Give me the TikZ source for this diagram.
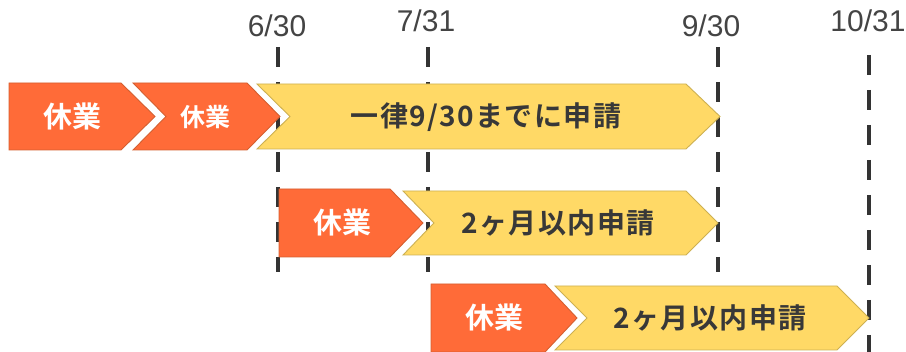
\documentclass[tikz,border=0pt]{standalone}
\usepackage{fontspec}
\setmainfont{Liberation Sans}
\newfontfamily\cjk{Noto Sans CJK JP}[BoldFont={* Bold}]
\newfontfamily\cjkw{Noto Sans CJK JP}[BoldFont={* Bold},LetterSpace=5]
\definecolor{orfill}{HTML}{FF6B38}
\definecolor{ordraw}{HTML}{D45F30}
\definecolor{yefill}{HTML}{FFD966}
\definecolor{yedraw}{HTML}{CDB052}
\definecolor{dline}{HTML}{333333}
\definecolor{lbl}{HTML}{444444}
\definecolor{dtext}{HTML}{383838}
\tikzset{
  orbox/.style={fill=orfill,draw=ordraw,line width=0.9pt,line join=miter},
  yebox/.style={fill=yefill,draw=yedraw,line width=0.9pt,line join=miter},
  dateline/.style={draw=dline,line width=4pt,dash pattern=on 20pt off 15pt},
  datelbl/.style={text=lbl,font=\fontsize{30}{31}\selectfont,inner sep=0pt},
  otext/.style={text=white,font=\cjk\bfseries\fontsize{29}{30}\selectfont,inner sep=0pt},
  ytext/.style={text=dtext,font=\cjkw\bfseries\fontsize{28}{30}\selectfont,inner sep=0pt},
}
\begin{document}
\begin{tikzpicture}[x=1pt,y=-1pt]
\useasboundingbox (0,0) rectangle (906,352);
% date lines
\coordinate (a1) at (277.5,47); \coordinate (a2) at (277.5,272);
\coordinate (b1) at (428,47);   \coordinate (b2) at (428,272);
\coordinate (c1) at (717.5,47); \coordinate (c2) at (717.5,272);
\coordinate (d1) at (869,55);   \coordinate (d2) at (869,352);
\draw[dateline] (a1) -- (a2);
\draw[dateline] (b1) -- (b2);
\draw[dateline] (c1) -- (c2);
\draw[dateline] (d1) -- (d2);
\node[datelbl] (l630) at (277,26) {6/30};
\node[datelbl] (l731) at (426,21) {7/31};
\node[datelbl] (l930) at (711,26) {9/30};
\node[datelbl] (l1031) at (868,21) {10/31};
% row 1
\path[orbox] (9,83) -- (121,83) -- (155,116.5) -- (121,150) -- (9,150) -- cycle;
\path[orbox] (133,83) -- (247,83) -- (280,116.5) -- (247,150) -- (133,150) -- (166,116.5) -- cycle;
\path[yebox] (257,84) -- (686,84) -- (720,116.5) -- (686,149) -- (257,149) -- (290,116.5) -- cycle;
\node[otext] (t1) at (72,116) {休業};
\node[otext,font=\cjk\bfseries\fontsize{25}{26}\selectfont] (t2) at (205,117) {休業};
\node[ytext] (t3) at (486,117) {一律9/30までに申請};
% row 2
\path[orbox] (279,189) -- (390,189) -- (423,223) -- (390,257) -- (279,257) -- cycle;
\path[yebox] (403,191) -- (686,191) -- (718,223) -- (686,255) -- (403,255) -- (434,223) -- cycle;
\node[otext] (t4) at (342,222) {休業};
\node[ytext] (t5) at (558,223) {2ヶ月以内申請};
% row 3
\path[orbox] (431,284) -- (545,284) -- (577,318) -- (545,352) -- (431,352) -- cycle;
\path[yebox] (555,286) -- (837,286) -- (869,318) -- (837,350) -- (555,350) -- (587,318) -- cycle;
\node[otext] (t6) at (494,317) {休業};
\node[ytext] (t7) at (710,318) {2ヶ月以内申請};
\end{tikzpicture}
\end{document}
